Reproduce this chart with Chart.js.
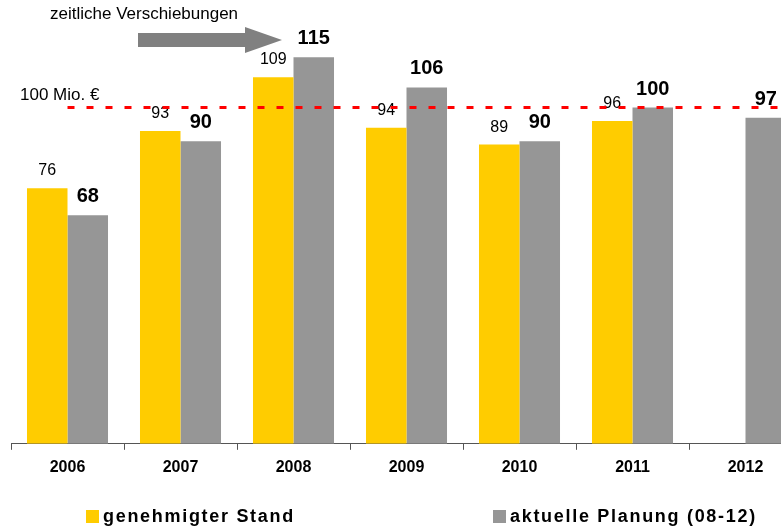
<!DOCTYPE html>
<html lang="de">
<head>
<meta charset="utf-8">
<script src="https://cdn.jsdelivr.net/npm/chart.js@4/dist/chart.umd.min.js"></script>
<style>
    html, body { margin: 0; padding: 0; background: #fff; overflow: hidden; width: 781px; height: 529px; }
    #wrap { position: absolute; left: 0; top: 0; width: 820px; height: 529px; }
    .legend { position: absolute; top: 506px; font: bold 18px "Liberation Sans", Arial, sans-serif; letter-spacing: 1.7px; color: #000; white-space: nowrap; }
    .legend i { display: inline-block; width: 13px; height: 13px; margin-right: 4px; vertical-align: -1px; }
</style>
</head>
<body>
<div id="wrap"><canvas id="chart"></canvas></div>
<div class="legend" style="left:86px"><i style="background:#ffcc00"></i>genehmigter Stand</div>
<div class="legend" style="left:493px"><i style="background:#969696"></i>aktuelle Planung (08-12)</div>
<script>
// Daten
const years = ['2006', '2007', '2008', '2009', '2010', '2011', '2012'];
const genehmigt = [76, 93, 109, 94, 89, 96, null];
const aktuell = [68, 90, 115, 106, 90, 100, 97];
const grenze = 100;

const FONT = '"Liberation Sans", Arial, sans-serif';

// Werte über den Balken
const valueLabels = {
    id: 'valueLabels',
    afterDatasetsDraw(chart) {
        const ctx = chart.ctx;
        ctx.save();
        ctx.textAlign = 'center';
        ctx.textBaseline = 'alphabetic';
        ctx.fillStyle = '#000';
        chart.data.datasets.forEach((ds, di) => {
            const meta = chart.getDatasetMeta(di);
            ctx.font = di === 0 ? '16px ' + FONT : 'bold 20px ' + FONT;
            meta.data.forEach((bar, i) => {
                const v = ds.data[i];
                if (v === null) return;
                ctx.fillText(String(v), bar.x, bar.y - 13);
            });
        });
        ctx.restore();
    }
};

// 100 Mio. Linie und Pfeil
const annotations = {
    id: 'annotations',
    afterDatasetsDraw(chart) {
        const ctx = chart.ctx;
        const x = chart.scales.x, y = chart.scales.y;
        const yLine = y.getPixelForValue(grenze);
        ctx.save();
        ctx.strokeStyle = '#ff0000';
        ctx.lineWidth = 3;
        ctx.setLineDash([7, 12]);
        ctx.beginPath();
        ctx.moveTo(x.getPixelForValue(0), yLine);
        ctx.lineTo(chart.chartArea.right, yLine);
        ctx.stroke();
        ctx.setLineDash([]);

        ctx.fillStyle = '#000';
        ctx.font = '17px ' + FONT;
        ctx.textAlign = 'left';
        ctx.textBaseline = 'alphabetic';
        ctx.fillText('100 Mio. \u20ac', 20, yLine - 8);
        ctx.fillText('zeitliche Verschiebungen', 50, 19);

        // Pfeil
        ctx.fillStyle = '#808080';
        ctx.beginPath();
        ctx.moveTo(138, 33);
        ctx.lineTo(245, 33);
        ctx.lineTo(245, 27);
        ctx.lineTo(282, 40);
        ctx.lineTo(245, 53);
        ctx.lineTo(245, 47);
        ctx.lineTo(138, 47);
        ctx.closePath();
        ctx.fill();
        ctx.restore();
    }
};

new Chart(document.getElementById('chart'), {
    type: 'bar',
    data: {
        labels: years,
        datasets: [
            {
                label: 'genehmigter Stand',
                data: genehmigt,
                backgroundColor: '#ffcc00',
                categoryPercentage: 0.717,
                barPercentage: 1.0
            },
            {
                label: 'aktuelle Planung (08-12)',
                data: aktuell,
                backgroundColor: '#969696',
                categoryPercentage: 0.717,
                barPercentage: 1.0
            }
        ]
    },
    options: {
        responsive: true,
        maintainAspectRatio: false,
        animation: false,
        layout: {
            padding: { left: 11, right: 18, top: 0, bottom: 44 }
        },
        scales: {
            x: {
                grid: {
                    offset: true,
                    drawOnChartArea: false,
                    drawTicks: true,
                    tickLength: 6,
                    color: '#555'
                },
                border: { color: '#555', width: 1 },
                ticks: {
                    padding: 8,
                    color: '#000',
                    font: { family: FONT, size: 16, weight: 'bold' }
                }
            },
            y: {
                display: false,
                min: 0,
                max: 132
            }
        },
        plugins: {
            legend: { display: false },
            tooltip: { enabled: false }
        }
    },
    plugins: [valueLabels, annotations]
});
</script>
</body>
</html>
